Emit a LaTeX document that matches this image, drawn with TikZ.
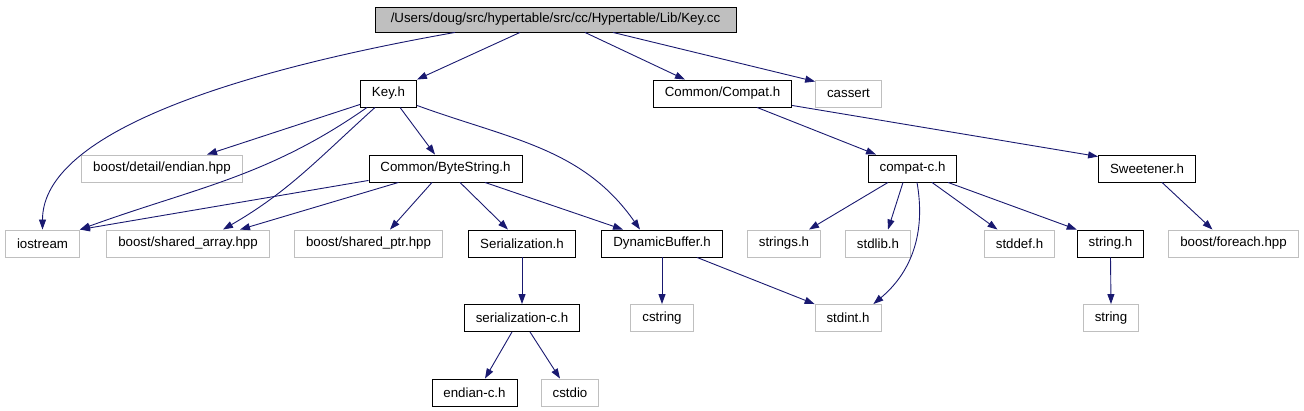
\documentclass[tikz,border=0pt]{standalone}
\usepackage{fontspec}
\setmainfont{Liberation Sans}
\usepackage{tikz}
\usetikzlibrary{arrows.meta, positioning}
\definecolor{edgeblue}{RGB}{25,25,112}
\definecolor{boxgray}{RGB}{191,191,191}

\begin{document}
\begin{tikzpicture}[
  x=1pt, y=1pt,
  hfile/.style={rectangle, draw=black, line width=0.9pt, minimum height=27pt,
                inner xsep=11.5pt, inner ysep=0pt,
                font=\fontsize{13.3}{16}\selectfont},
  sysfile/.style={hfile, draw=boxgray},
  arrow/.style={-{Stealth[length=10pt, width=7pt, inset=0pt]},
                line width=0.9pt, draw=edgeblue},
]
\useasboundingbox (0,0) rectangle (1304,-411);

% ---- Key.cc ----
\node[hfile, fill=boxgray, minimum width=361pt, minimum height=25pt] (root)
      at (555.5,-19.5) {/Users/doug/src/hypertable/src/cc/Hypertable/Lib/Key.cc};

% ---- 第一层 ----
\node[hfile]   (keyh)    at (388.5,-93.5) {Key.h};
\node[hfile]   (compat)  at (722.5,-93.5) {Common/Compat.h};
\node[sysfile] (cassert) at (848.5,-93.5) {cassert};

% ---- 第二层 ----
\node[sysfile] (endian)  at (162,-168.5)   {boost/detail/endian.hpp};
\node[hfile]   (bytestr) at (445.5,-168.5) {Common/ByteString.h};
\node[hfile]   (compatc) at (912.5,-168.5) {compat-c.h};
\node[hfile]   (sweet)   at (1147,-168.5)  {Sweetener.h};

% ---- 第三层 ----
\node[sysfile] (iostream) at (42.5,-243.5)  {iostream};
\node[sysfile] (sharr)    at (188,-243.5)   {boost/shared\_array.hpp};
\node[sysfile] (shptr)    at (368.5,-243.5) {boost/shared\_ptr.hpp};
\node[hfile]   (serial)   at (522,-243.5)   {Serialization.h};
\node[hfile]   (dynbuf)   at (662,-243.5)   {DynamicBuffer.h};
\node[sysfile] (stringsh) at (784,-243.5)   {strings.h};
\node[sysfile] (stdlib)   at (878,-243.5)   {stdlib.h};
\node[sysfile] (stddef)   at (1019.5,-243.5) {stddef.h};
\node[hfile]   (stringh)  at (1110.5,-243.5) {string.h};
\node[sysfile] (foreach)  at (1233.5,-243.5) {boost/foreach.hpp};

% ---- 第四层 ----
\node[hfile]   (serialc) at (522,-318)  {serialization-c.h};
\node[sysfile] (cstring) at (662,-318)  {cstring};
\node[sysfile] (stdint)  at (848,-318)  {stdint.h};
\node[sysfile] (string)  at (1111,-318) {string};

% ---- 第五层 ----
\node[hfile]   (endianc) at (474.5,-392.5) {endian-c.h};
\node[sysfile] (cstdio)  at (570,-392.5)   {cstdio};

% ---- Key.cc 连线 ----
\draw[arrow] ([xshift=-100.5pt]root.south)
  to[out=190, in=90, out distance=210pt, in distance=100pt] (iostream.north);
\draw[arrow] ([xshift=-35.5pt]root.south) -- (keyh.north east);
\draw[arrow] ([xshift=29.5pt]root.south) -- ([xshift=-37.5pt]compat.north);
\draw[arrow] ([xshift=57.5pt]root.south) -- ([yshift=-2pt]cassert.north west);

% ---- Key.h 连线 ----
\draw[arrow] ([yshift=3pt]keyh.south west) -- ([xshift=45pt]endian.north);
\draw[arrow] ([xshift=7pt]keyh.south west) to[out=215, in=20] (iostream.north east);
\draw[arrow] ([xshift=15pt]keyh.south west) to[out=222, in=30] ([xshift=35pt]sharr.north);
\draw[arrow] ([xshift=11.5pt]keyh.south) -- ([xshift=-10.5pt]bytestr.north);
\draw[arrow] ([yshift=2pt]keyh.south east) to[out=-20, in=125] ([xshift=-22pt]dynbuf.north);

% ---- ByteString.h 连线 ----
\draw[arrow] ([yshift=2pt]bytestr.south west) -- (iostream.north east);
\draw[arrow] ([xshift=30pt]bytestr.south west) -- ([xshift=52pt]sharr.north);
\draw[arrow] ([xshift=-13.5pt]bytestr.south) -- ([xshift=21.5pt]shptr.north);
\draw[arrow] ([xshift=14.5pt]bytestr.south) -- ([xshift=-14pt]serial.north);
\draw[arrow] ([xshift=39.5pt]bytestr.south) -- ([xshift=-39pt]dynbuf.north);

% ---- Serialization 连线 ----
\draw[arrow] (serial.south) -- (serialc.north);
\draw[arrow] ([xshift=-10pt]serialc.south) -- ([xshift=10.5pt]endianc.north);
\draw[arrow] ([xshift=8pt]serialc.south) -- ([xshift=-10pt]cstdio.north);

% ---- DynamicBuffer.h 连线 ----
\draw[arrow] (dynbuf.south) -- (cstring.north);
\draw[arrow] ([xshift=35pt]dynbuf.south) -- (stdint.north west);

% ---- Compat 连线 ----
\draw[arrow] ([xshift=34.5pt]compat.south) -- ([xshift=-36.5pt]compatc.north);
\draw[arrow] ([yshift=2pt]compat.south east) -- ([yshift=-2pt]sweet.north west);
\draw[arrow] ([xshift=-24.5pt]compatc.south) -- ([xshift=25pt]stringsh.north);
\draw[arrow] ([xshift=-9.5pt]compatc.south) -- ([xshift=10pt]stdlib.north);
\draw[arrow] ([xshift=4.5pt]compatc.south) to[out=-80, in=40] ([xshift=-8pt]stdint.north east);
\draw[arrow] ([xshift=19.5pt]compatc.south) -- ([xshift=-22pt]stddef.north);
\draw[arrow] ([xshift=35.5pt]compatc.south) -- (stringh.north west);
\draw[arrow] ([xshift=15pt]sweet.south) -- ([xshift=-21pt]foreach.north);
\draw[arrow] (stringh.south) -- (string.north);

\end{tikzpicture}
\end{document}
